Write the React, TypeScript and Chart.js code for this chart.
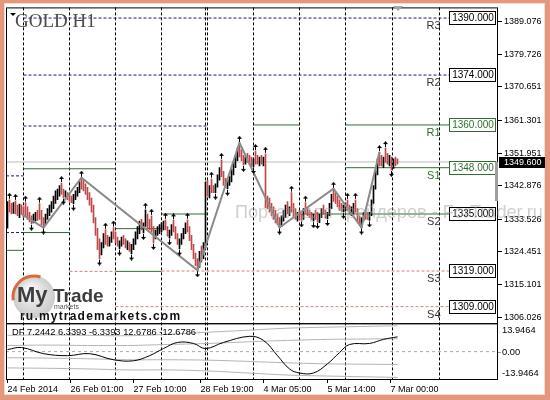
import React, { useEffect, useRef } from 'react';
import { Chart, registerables } from 'chart.js';
Chart.register(...registerables);

// ---------- DATA ----------
const barHighs = [
  1338.5, 1339.0, 1338.0, 1338.2, 1338.7, 1337.5, 1337.8, 1337.6, 1337.0, 1338.2,
  1337.0, 1335.5, 1334.5, 1335.0, 1335.5, 1336.0, 1337.9, 1336.0, 1334.0, 1335.0,
  1336.5, 1337.5, 1338.5, 1340.0, 1341.5, 1342.0, 1343.0, 1343.7, 1342.0, 1341.5,
  1341.0, 1340.5, 1340.0, 1340.5, 1341.5, 1342.5, 1344.0, 1345.2, 1344.5, 1343.5,
  1342.5, 1341.0, 1339.5, 1337.5, 1334.0, 1331.0, 1328.0, 1327.0, 1329.5, 1330.6,
  1329.0, 1328.5, 1330.0, 1331.2, 1330.0, 1328.5, 1327.5, 1328.5, 1329.0, 1328.0,
  1327.5, 1327.0, 1326.5, 1328.0, 1330.0, 1331.5, 1333.0, 1333.5, 1332.5, 1336.2,
  1335.0, 1333.5, 1334.5, 1331.5, 1330.5, 1331.5, 1332.0, 1332.5, 1333.0, 1333.4,
  1331.5, 1330.5, 1332.0, 1333.2, 1331.5, 1329.5, 1328.0, 1329.5, 1331.0, 1332.5,
  1333.4, 1331.5, 1329.0, 1326.5, 1324.0, 1322.5, 1324.5, 1326.0, 1327.0, 1344.0,
  1344.5, 1343.0, 1344.9, 1343.0, 1343.5, 1346.0, 1348.0, 1350.2, 1347.0, 1345.0,
  1344.5, 1345.5, 1347.5, 1349.5, 1351.5, 1353.5, 1355.0, 1353.0, 1351.5, 1351.0,
  1352.0, 1351.5, 1351.0, 1350.5, 1352.7, 1351.5, 1351.0, 1351.5, 1351.0, 1351.9,
  1340.0, 1339.5, 1338.0, 1337.0, 1336.0, 1335.0, 1334.0, 1334.5, 1336.0, 1337.5,
  1338.5, 1337.0, 1341.0, 1338.0, 1336.5, 1335.5, 1336.0, 1335.0, 1336.5, 1338.2,
  1337.0, 1336.0, 1335.5, 1335.0, 1336.0, 1335.5, 1335.0, 1336.5, 1337.5, 1336.0,
  1335.5, 1338.0, 1340.5, 1342.1, 1341.0, 1340.0, 1339.0, 1338.0, 1337.5, 1338.0,
  1339.0, 1337.5, 1337.0, 1338.0, 1339.0, 1336.5, 1334.5, 1334.0, 1335.5, 1336.0,
  1335.5, 1335.5, 1339.0, 1343.0, 1347.0, 1350.5, 1352.4, 1351.5, 1351.0, 1353.5,
  1352.0, 1351.5, 1351.0, 1350.5, 1351.0, 1350.5,
];
const barLows = [
  1331.0, 1335.5, 1335.0, 1335.2, 1335.0, 1334.5, 1334.0, 1334.8, 1334.0, 1334.5,
  1333.5, 1332.8, 1332.3, 1332.5, 1333.0, 1333.2, 1333.5, 1332.0, 1331.2, 1332.0,
  1333.5, 1334.5, 1335.5, 1336.5, 1338.0, 1339.0, 1340.0, 1340.5, 1339.6, 1339.8,
  1339.0, 1338.5, 1338.2, 1337.9, 1339.0, 1340.0, 1341.0, 1342.0, 1341.5, 1340.5,
  1339.0, 1337.5, 1335.5, 1332.5, 1329.0, 1325.0, 1322.5, 1323.5, 1325.5, 1326.5,
  1326.0, 1326.0, 1327.0, 1328.0, 1327.0, 1326.0, 1325.3, 1326.0, 1326.5, 1325.5,
  1325.0, 1324.5, 1323.9, 1325.0, 1326.5, 1328.0, 1329.5, 1330.5, 1329.7, 1331.5,
  1331.0, 1330.5, 1330.0, 1326.9, 1328.0, 1329.0, 1329.5, 1330.0, 1330.5, 1330.5,
  1328.8, 1328.2, 1329.0, 1330.0, 1328.0, 1326.5, 1325.3, 1326.5, 1328.0, 1329.5,
  1330.0, 1327.5, 1325.0, 1322.5, 1320.5, 1319.2, 1320.0, 1321.5, 1322.5, 1325.5,
  1340.0, 1339.5, 1341.0, 1341.0, 1341.0, 1342.5, 1344.5, 1345.5, 1343.0, 1342.5,
  1342.1, 1343.0, 1344.0, 1346.0, 1348.0, 1350.0, 1351.0, 1350.0, 1348.8, 1349.0,
  1349.5, 1349.0, 1348.5, 1348.2, 1349.0, 1349.0, 1348.5, 1349.0, 1348.5, 1336.8,
  1336.5, 1335.5, 1334.5, 1333.5, 1332.5, 1332.0, 1331.2, 1331.5, 1333.0, 1334.0,
  1335.0, 1334.5, 1335.5, 1334.0, 1333.5, 1333.0, 1333.5, 1333.2, 1333.5, 1335.0,
  1334.5, 1334.0, 1333.5, 1333.0, 1333.5, 1332.8, 1332.6, 1334.0, 1335.0, 1333.8,
  1333.6, 1334.5, 1336.5, 1338.5, 1338.0, 1337.0, 1336.0, 1335.8, 1335.6, 1335.8,
  1336.0, 1335.0, 1334.5, 1335.0, 1335.5, 1333.0, 1332.0, 1331.2, 1333.0, 1333.5,
  1333.5, 1333.2, 1334.5, 1338.0, 1342.0, 1346.0, 1348.5, 1348.5, 1348.0, 1349.5,
  1349.0, 1348.5, 1347.4, 1347.8, 1348.5, 1349.0,
];
// u = bullish bar (black), d = bearish bar (red)
const barDirections = (
  'uddudduddd' + 'ddduuddddu' + 'uuuuuuuddu' + 'ddduuuuddd' + 'ddddddduud' +
  'duuddduudd' + 'uduuuuuduu' + 'dddduuuuud' + 'duuddduuuu' + 'dddddduduu' +
  'dudduuuddd' + 'uuuuuudddu' + 'ddduddudud' + 'ddddddduuu' + 'duddduddud' +
  'dddudduudd' + 'uuuddddduu' + 'dduuddduud' + 'duuuuuddud' + 'dududd'
).split('');

const fractalUpBars = [1, 4, 9, 16, 27, 37, 49, 53, 69, 72, 79, 83, 90, 102, 107, 116, 124, 129, 142, 149, 163, 170, 174, 186, 189];
const fractalDownBars = [12, 18, 28, 33, 46, 56, 62, 68, 73, 81, 86, 95, 104, 110, 118, 123, 136, 147, 153, 155, 160, 168, 177, 181, 192];

const zigzagBars = [7, 18, 37, 95, 116, 136, 163, 177, 186];
const zigzagPrices = [1335.0, 1331.2, 1345.2, 1319.2, 1355.0, 1331.2, 1342.1, 1331.2, 1352.4];

const currentPrice = 1349.6;

const levelNames = ['R3', 'R2', 'R1', 'S1', 'S2', 'S3', 'S4'];
const levelValues = [1390, 1374, 1360, 1348, 1335, 1319, 1309];
const levelColors = ['#000000', '#000000', '#2f6e2f', '#2f6e2f', '#000000', '#000000', '#000000'];

// pivot line segments (bar from, bar to, price, style)
const pivotFrom = [8, 8, 8, 123, 169, -0.75, 8, 169, -0.75, 8, -0.75, 54, 77, 146, 31, 54, 77, 54];
const pivotTo = [220.75, 220.75, 100, 146, 220.75, 8, 54, 220.75, 8, 31, 8, 77, 100, 220.75, 54, 77, 220.75, 220.75];
const pivotPrices = [1390, 1374, 1359.7, 1360, 1360, 1345.7, 1347.7, 1348, 1329.8, 1329.8, 1324.8, 1330.9, 1335.0, 1335, 1318.9, 1318.9, 1319, 1309];
const pivotStyles = ['blue', 'blue', 'blue', 'green', 'green', 'blue', 'green', 'green', 'blue', 'green', 'green', 'green', 'green', 'green', 'red', 'green', 'red', 'red'];

const priceTicks = [1389.076, 1379.726, 1370.651, 1361.301, 1351.951, 1342.876, 1333.526, 1324.451, 1315.101, 1306.026];
const timeLabels = ['24 Feb 2014', '26 Feb 01:00', '27 Feb 10:00', '28 Feb 19:00', '4 Mar 05:00', '5 Mar 14:00', '7 Mar 00:00'];
const timeLabelBars = [0, 31.5, 63, 96.5, 128, 160, 191.5];
const separatorBars = [8, 31, 54, 77, 99, 100, 123, 146, 169, 192.5, 216];

// DF indicator
const dfBars = [0, 7, 18, 30, 41, 53, 63, 71, 78, 85, 93, 99, 108, 121, 128, 135, 141, 146, 153, 160, 166, 171, 181, 188, 195];
const dfValues = [1.0, 2.0, -1.0, -2.0, -1.0, -4.0, -4.5, -2.0, 1.5, 4.5, 4.0, 1.5, 4.5, 7.5, 5.5, -2.0, -8.5, -10.5, -10.5, -6.0, -0.5, 3.5, 4.0, 6.0, 7.2442];
const bandBars = [0, 20, 40, 60, 80, 100, 120, 140, 160, 180, 195];
const bandOuterUp = [8.0, 8.2, 8.0, 7.8, 8.5, 9.5, 10.5, 11.5, 12.0, 12.4, 12.6786];
const bandInnerUp = [3.0, 3.2, 3.0, 3.0, 3.5, 4.0, 4.8, 5.5, 6.0, 6.2, 6.3393];
const bandInnerDown = [-3.0, -3.2, -3.5, -4.0, -4.0, -4.2, -4.8, -5.5, -6.0, -6.2, -6.3393];
const bandOuterDown = [-8.0, -8.2, -8.5, -9.0, -9.0, -9.5, -10.5, -11.5, -12.0, -12.4, -12.6786];
const dfRange = 13.9464;
const dfTitle = 'DF 7.2442 6.3393 -6.3393 12.6786 -12.6786';

const X_MIN = -0.75;
const X_MAX = 245.25;
const BOX_FROM = 220.75;
const BOX_TO = 243.75;

const FONT = '"Liberation Sans", Arial, sans-serif';

function makeArrow(up: boolean) {
  const c = document.createElement('canvas');
  c.width = 5;
  c.height = 14;
  const g = c.getContext('2d')!;
  g.fillStyle = '#000';
  if (up) {
    g.beginPath(); g.moveTo(2.5, 0); g.lineTo(5, 3); g.lineTo(0, 3); g.closePath(); g.fill();
    g.fillRect(2, 3, 1, 3);
  } else {
    g.beginPath(); g.moveTo(2.5, 14); g.lineTo(5, 11); g.lineTo(0, 11); g.closePath(); g.fill();
    g.fillRect(2, 8, 1, 3);
  }
  return c;
}

const stylePivot = (s: string) =>
  s === 'blue' ? { c: '#1a1a80', d: [3, 2] } : s === 'red' ? { c: '#d88080', d: [3, 2] } : { c: '#2f6e2f', d: [] as number[] };

const decor = {
  id: 'decor',
  beforeDraw(chart: any) {
    const { ctx, width, height } = chart;
    ctx.save();
    ctx.fillStyle = '#e4977d';
    ctx.fillRect(0, 0, width, height);
    ctx.fillStyle = '#f6d9cf';
    ctx.fillRect(4, 3, width - 9, height - 8);
    ctx.fillStyle = '#ffffff';
    ctx.fillRect(5, 4, width - 11, height - 10);
    ctx.restore();
  },
  beforeDatasetsDraw(chart: any) {
    const { ctx, chartArea } = chart;
    const x = chart.scales.x;
    ctx.save();
    ctx.strokeStyle = '#000';
    ctx.lineWidth = 1;
    ctx.setLineDash([3, 2]);
    for (const b of separatorBars) {
      const px = Math.floor(x.getPixelForValue(b)) + 0.5;
      ctx.beginPath();
      ctx.moveTo(px, chartArea.top);
      ctx.lineTo(px, chartArea.bottom);
      ctx.stroke();
    }
    ctx.restore();
  },
  afterDatasetsDraw(chart: any) {
    const { ctx, chartArea } = chart;
    const x = chart.scales.x;
    const y = chart.scales.y;
    const yi = chart.scales.yi;
    ctx.save();
    // panel frames
    ctx.strokeStyle = '#000';
    ctx.lineWidth = 1;
    ctx.strokeRect(chartArea.left + 0.5, y.top + 0.5, chartArea.right - chartArea.left - 1, y.bottom - y.top);
    ctx.strokeRect(chartArea.left + 0.5, yi.top + 0.5, chartArea.right - chartArea.left - 1, yi.bottom - yi.top - 1);

    // level labels
    const bl = Math.round(x.getPixelForValue(BOX_FROM)) + 0.5;
    const br = Math.round(x.getPixelForValue(BOX_TO)) + 0.5;
    levelValues.forEach((v, i) => {
      const py = Math.round(y.getPixelForValue(v));
      ctx.fillStyle = '#fff';
      ctx.fillRect(bl, py - 7, br - bl, 13);
      ctx.strokeStyle = levelColors[i];
      ctx.strokeRect(bl, py - 6.5, br - bl, 13);
      ctx.fillStyle = levelColors[i];
      ctx.font = `10px ${FONT}`;
      ctx.textBaseline = 'middle';
      ctx.textAlign = 'center';
      ctx.fillText(v.toFixed(3), (bl + br) / 2 + 0.5, py + 0.5);
      ctx.fillStyle = levelColors[i] === '#000000' ? '#333' : levelColors[i];
      ctx.font = `11px ${FONT}`;
      ctx.textAlign = 'right';
      ctx.textBaseline = 'top';
      ctx.fillText(levelNames[i], bl - 9, py + 2);
    });

    // title
    ctx.fillStyle = '#4a4a4a';
    ctx.font = '19px "Liberation Serif", serif';
    ctx.textAlign = 'left';
    ctx.textBaseline = 'alphabetic';
    ctx.fillText('GOLD H1', 15, 27);
    ctx.fillStyle = '#000';
    ctx.beginPath(); ctx.moveTo(10, 13); ctx.lineTo(16, 13); ctx.lineTo(13, 16); ctx.closePath(); ctx.fill();
    // shift marker
    ctx.fillStyle = '#a8a8a8';
    ctx.beginPath(); ctx.moveTo(393, 6); ctx.lineTo(403, 6); ctx.lineTo(398, 11); ctx.closePath(); ctx.fill();

    // current price tag
    const cp = Math.round(y.getPixelForValue(currentPrice));
    ctx.fillStyle = '#a0a0a0';
    ctx.fillRect(chartArea.right - 3, cp, 3, Math.round(y.getPixelForValue(1338.6)) - cp);
    ctx.fillStyle = '#000';
    ctx.fillRect(chartArea.right + 1, cp - 5, 46, 11);
    ctx.fillStyle = '#fff';
    ctx.font = `9px ${FONT}`;
    ctx.textAlign = 'left';
    ctx.textBaseline = 'middle';
    ctx.fillText(currentPrice.toFixed(3), chartArea.right + 6, cp + 0.5);

    // indicator texts
    ctx.fillStyle = '#000';
    ctx.font = `9.3px ${FONT}`;
    ctx.textBaseline = 'middle';
    ctx.fillText(dfTitle, 12, yi.top + 9);
    ctx.textBaseline = 'top';
    ctx.fillText(dfRange.toFixed(4), chartArea.right + 4, yi.top + 3);
    ctx.textBaseline = 'middle';
    ctx.fillText('0.00', chartArea.right + 4, yi.getPixelForValue(0) + 0.5);
    ctx.textBaseline = 'bottom';
    ctx.fillText((-dfRange).toFixed(4), chartArea.right + 4, yi.bottom - 2);
    ctx.strokeStyle = '#999';
    ctx.setLineDash([3, 2]);
    ctx.beginPath();
    ctx.moveTo(chartArea.right, Math.round(yi.getPixelForValue(0)) + 0.5);
    ctx.lineTo(chartArea.right + 3, Math.round(yi.getPixelForValue(0)) + 0.5);
    ctx.stroke();
    ctx.setLineDash([]);

    // logo
    ctx.save();
    const grad = ctx.createRadialGradient(30, 290, 4, 34, 297, 22);
    grad.addColorStop(0, '#f4f4f4');
    grad.addColorStop(1, '#c9c9c9');
    ctx.beginPath(); ctx.arc(34, 297, 21, 0, Math.PI * 2);
    ctx.fillStyle = grad; ctx.fill();
    ctx.beginPath(); ctx.arc(34, 297, 21, Math.PI * 0.95, Math.PI * 1.6);
    ctx.strokeStyle = '#db6a3a'; ctx.lineWidth = 3; ctx.stroke();
    ctx.restore();
    ctx.fillStyle = '#3d3d3d';
    ctx.font = `bold 22px ${FONT}`;
    ctx.textBaseline = 'alphabetic';
    ctx.textAlign = 'left';
    ctx.fillText('My', 17, 302);
    ctx.font = `bold 19px ${FONT}`;
    ctx.fillText('Trade', 53, 302);
    ctx.font = `7px ${FONT}`;
    ctx.fillStyle = '#555';
    ctx.fillText('markets', 54, 309);
    ctx.font = `bold 12px ${FONT}`;
    ctx.fillStyle = '#111';
    const url = 'ru.mytrademarkets.com';
    let cx = 20;
    for (const ch of url) {
      ctx.fillText(ch, cx, 320);
      cx += ctx.measureText(ch).width + 1.2;
    }

    // watermark
    const wm = 'Портал для трейдеров - ForTrader.ru';
    ctx.font = `18px ${FONT}`;
    const w = ctx.measureText(wm).width;
    const fs = 18 * 308 / w;
    ctx.font = `${fs.toFixed(2)}px ${FONT}`;
    ctx.fillStyle = 'rgba(160,160,160,0.5)';
    ctx.textBaseline = 'alphabetic';
    ctx.fillText(wm, 235, 218);
    ctx.restore();
  },
};

export default function App() {
  const ref = useRef<HTMLCanvasElement>(null);
  useEffect(() => {
    document.body.style.margin = '0';
    const upImg = makeArrow(true);
    const downImg = makeArrow(false);
    const datasets: any[] = [];

    // pivot segments
    pivotFrom.forEach((f, i) => {
      const st = stylePivot(pivotStyles[i]);
      datasets.push({
        type: 'line', yAxisID: 'y', data: [{ x: f, y: pivotPrices[i] }, { x: pivotTo[i], y: pivotPrices[i] }],
        borderColor: st.c, borderDash: st.d, borderWidth: 1, pointRadius: 0, order: 10,
      });
    });
    // current price line
    datasets.push({
      type: 'line', yAxisID: 'y', data: [{ x: X_MIN, y: currentPrice }, { x: X_MAX, y: currentPrice }],
      borderColor: '#bdbdbd', borderWidth: 1, pointRadius: 0, order: 9,
    });
    // bars
    datasets.push({
      type: 'bar', yAxisID: 'y',
      data: barHighs.map((h, i) => ({ x: i, y: [barLows[i], h] })),
      backgroundColor: barDirections.map((d) => (d === 'u' ? '#000000' : '#c04848')),
      barThickness: 1, borderWidth: 0, grouped: false, order: 5,
    });
    // zigzag
    datasets.push({
      type: 'line', yAxisID: 'y', data: zigzagBars.map((b, i) => ({ x: b, y: zigzagPrices[i] })),
      borderColor: '#8a8a8a', borderWidth: 2, pointRadius: 0, order: 4,
    });
    // fractals
    datasets.push({
      type: 'line', yAxisID: 'y', showLine: false, data: fractalUpBars.map((b) => ({ x: b, y: barHighs[b] })),
      pointStyle: upImg, pointRadius: 3, order: 3,
    });
    datasets.push({
      type: 'line', yAxisID: 'y', showLine: false, data: fractalDownBars.map((b) => ({ x: b, y: barLows[b] })),
      pointStyle: downImg, pointRadius: 3, order: 3,
    });
    // indicator
    datasets.push({
      type: 'line', yAxisID: 'yi', data: [{ x: X_MIN, y: 0 }, { x: X_MAX, y: 0 }],
      borderColor: '#aaaaaa', borderDash: [3, 3], borderWidth: 1, pointRadius: 0, order: 8,
    });
    [bandOuterUp, bandInnerUp, bandInnerDown, bandOuterDown].forEach((arr) => {
      datasets.push({
        type: 'line', yAxisID: 'yi', data: bandBars.map((b, i) => ({ x: b, y: arr[i] })),
        borderColor: '#b4b4b4', borderWidth: 1, pointRadius: 0, tension: 0.4, order: 7,
      });
    });
    datasets.push({
      type: 'line', yAxisID: 'yi', data: dfBars.map((b, i) => ({ x: b, y: dfValues[i] })),
      borderColor: '#000000', borderWidth: 1, pointRadius: 0, tension: 0.4, order: 2,
    });

    const chart = new Chart(ref.current!, {
      type: 'bar',
      data: { datasets },
      options: {
        responsive: false,
        animation: false,
        devicePixelRatio: 1,
        events: [],
        layout: { padding: { left: 6, top: 6, right: 0, bottom: 0 } },
        plugins: { legend: { display: false }, tooltip: { enabled: false } },
        scales: {
          x: {
            type: 'linear', min: X_MIN, max: X_MAX, offset: false, position: 'bottom',
            afterBuildTicks: (s: any) => { s.ticks = timeLabelBars.map((v) => ({ value: v })); },
            afterFit: (s: any) => { s.height = 20; },
            grid: { display: true, drawOnChartArea: false, drawTicks: true, tickLength: 3, color: '#000', offset: false },
            border: { display: false },
            ticks: {
              align: 'start', autoSkip: false, maxRotation: 0, padding: 1, color: '#000',
              font: { family: FONT, size: 9 },
              callback: (_v: any, i: number) => timeLabels[i],
            },
          },
          y: {
            type: 'linear', position: 'right', stack: 'panels', stackWeight: 317,
            min: 1304.35, max: 1392.99,
            afterBuildTicks: (s: any) => { s.ticks = priceTicks.map((v) => ({ value: v })); },
            afterFit: (s: any) => { s.width = 52; },
            grid: { display: true, drawOnChartArea: false, drawTicks: true, tickLength: 4, color: '#000' },
            border: { display: false },
            ticks: { padding: 2, color: '#000', font: { family: FONT, size: 9 }, callback: (v: any) => Number(v).toFixed(3) },
          },
          yi: {
            type: 'linear', position: 'right', stack: 'panels', stackWeight: 57,
            min: -dfRange, max: dfRange,
            afterFit: (s: any) => { s.width = 52; },
            grid: { display: false },
            border: { display: false },
            ticks: { display: false },
          },
        },
      } as any,
      plugins: [decor],
    });
    return () => chart.destroy();
  }, []);
  return (
    <div style={{ position: 'absolute', left: 0, top: 0, width: 550, height: 400 }}>
      <canvas ref={ref} width={550} height={400} style={{ display: 'block', width: 550, height: 400 }} />
    </div>
  );
}
